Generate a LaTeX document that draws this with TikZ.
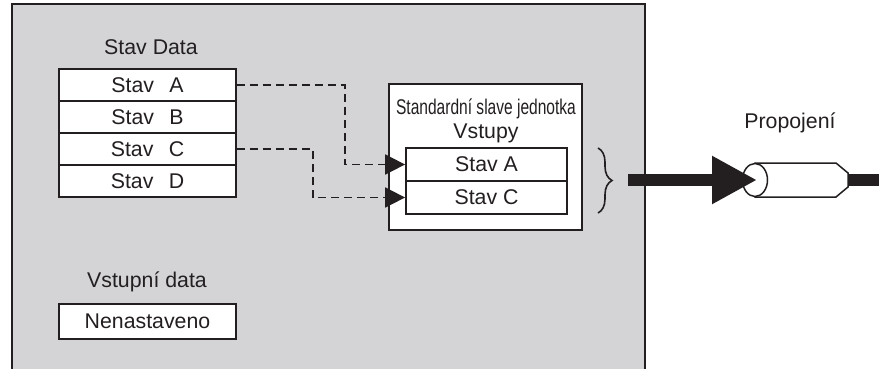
\documentclass[tikz,border=0pt]{standalone}
\usepackage{fontspec}
\setmainfont{Liberation Sans}
\usetikzlibrary{arrows.meta,decorations.pathreplacing,shapes.geometric}
\definecolor{panelgray}{RGB}{212,212,214}
\definecolor{ink}{RGB}{35,31,32}
\newcommand\fsz{\fontsize{21.3}{24}\selectfont}
\tikzset{
  rowbox/.style={draw=ink, fill=white, line width=1.8pt, minimum width=177pt, minimum height=32pt, inner sep=0pt, font=\fsz, text=ink},
  inrow/.style={draw=ink, fill=white, line width=1.8pt, minimum width=161pt, minimum height=33pt, inner sep=0pt, font=\fsz, text=ink},
  lbl/.style={inner sep=0pt, font=\fsz, text=ink},
  dashconn/.style={draw=ink, line width=1.8pt, dash pattern=on 8pt off 5pt, -{Triangle[length=20pt,width=20pt]}},
  bigline/.style={draw=ink, line width=12pt},
}
\begin{document}
\begin{tikzpicture}[x=1pt,y=-1pt]
\useasboundingbox (0,0) rectangle (879,369);
% panel
\fill[panelgray] (12,4) rectangle (645,372);
\draw[ink, line width=1.8pt] (12,372) -- (12,4) -- (645,4) -- (645,372);
% Stav Data table
\node[lbl] (sdlbl) at (151,47) {Stav Data};
\node[rowbox] (rA) at (147.5,85) {Stav\ \ \,A};
\node[rowbox] (rB) at (147.5,117) {Stav\ \ \,B};
\node[rowbox] (rC) at (147.5,149) {Stav\ \ \,C};
\node[rowbox] (rD) at (147.5,181) {Stav\ \ \,D};
% Vstupni data
\node[lbl] (vdlbl) at (147,282) {Vstupní data};
\node[rowbox, minimum height=35pt] (nen) at (147.5,321.5) {Nenastaveno};
% standard slave unit
\node[draw=ink, fill=white, line width=1.8pt, minimum width=193pt, minimum height=146pt, inner sep=0pt] (std) at (485.5,157) {};
\node[lbl] (stdlbl) at (486,109) {\scalebox{0.73}[1]{Standardní slave jednotka}};
\node[lbl] (vstlbl) at (486,133) {Vstupy};
\node[inrow] (iA) at (486.5,164.5) {Stav\ A};
\node[inrow] (iC) at (486.5,197.5) {Stav\ C};
% dashed connectors
\draw[dashconn] (rA.east) -- ++(108,0) |- (iA.west);
\draw[dashconn] (rC.east) -- ++(76,0) |- (iC.west);
% brace
\draw[ink, line width=1.6pt, decorate, decoration={brace, amplitude=14pt}] (598,148) -- (598,213);
% cable
\node[lbl] (prop) at (790,123) {Propojení};
\filldraw[draw=ink, fill=white, line width=1.5pt] (755,163) -- (836,163) -- (848,173) -- (848,187) -- (836,197) -- (755,197) -- cycle;
\node[draw=ink, fill=white, line width=1.5pt, ellipse, minimum width=25pt, minimum height=33pt, inner sep=0pt] (cylL) at (755,180) {};
\coordinate (cylR) at (848,180);
\coordinate (inStart) at (628,180);
\coordinate (outEnd) at (882,180);
\draw[bigline, -{Triangle[length=45pt,width=45pt]}] (inStart) -- ([xshift=2pt]cylL.center);
\draw[bigline] (cylR) -- (outEnd);
\end{tikzpicture}
\end{document}
